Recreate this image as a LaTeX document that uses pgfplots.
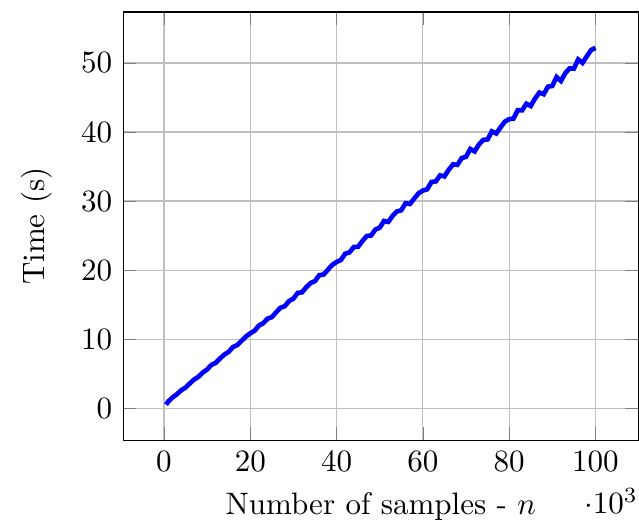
\documentclass[border=0pt]{standalone}
\usepackage{pgfplots}
\pgfplotsset{compat=1.18}
\begin{document}
\begin{tikzpicture}
\begin{axis}[
  scale only axis,
  width=166pt, height=138pt,
  grid=major,
  ytick distance=10,
  xlabel={Number of samples - $n$},
  ylabel={Time (s)},
  ylabel shift=2.5pt,
  scaled x ticks=base 10:-3,
  every x tick scale label/.style={at={(xticklabel cs:1)},anchor=north east,inner sep=0pt,yshift=-2pt},
]
\addplot[blue, line width=1.5pt, no marks] coordinates {
(500,0.515) (1000,0.987) (2000,1.580) (3000,2.031) (4000,2.604) (5000,3.003)
(6000,3.599) (7000,4.169) (8000,4.561) (9000,5.177) (10000,5.617)
(11000,6.281) (12000,6.582) (13000,7.221) (14000,7.777) (15000,8.169)
(16000,8.871) (17000,9.149) (18000,9.770) (19000,10.383) (20000,10.851)
(21000,11.227) (22000,11.976) (23000,12.307) (24000,12.976) (25000,13.195)
(26000,13.911) (27000,14.553) (28000,14.789) (29000,15.525) (30000,15.881)
(31000,16.701) (32000,16.786) (33000,17.545) (34000,18.137) (35000,18.421)
(36000,19.279) (37000,19.365) (38000,20.070) (39000,20.755) (40000,21.187)
(41000,21.467) (42000,22.372) (43000,22.583) (44000,23.348) (45000,23.387)
(46000,24.223) (47000,24.937) (48000,25.017) (49000,25.873) (50000,26.145)
(51000,27.121) (52000,26.990) (53000,27.869) (54000,28.497) (55000,28.673)
(56000,29.687) (57000,29.581) (58000,30.370) (59000,31.127) (60000,31.523)
(61000,31.707) (62000,32.768) (63000,32.859) (64000,33.720) (65000,33.579)
(66000,34.535) (67000,35.321) (68000,35.245) (69000,36.221) (70000,36.409)
(71000,37.541) (72000,37.194) (73000,38.193) (74000,38.857) (75000,38.925)
(76000,40.095) (77000,39.797) (78000,40.670) (79000,41.499) (80000,41.859)
(81000,41.947) (82000,43.164) (83000,43.135) (84000,44.092) (85000,43.771)
(86000,44.847) (87000,45.705) (88000,45.473) (89000,46.569) (90000,46.673)
(91000,47.961) (92000,47.398) (93000,48.517) (94000,49.217) (95000,49.177)
(96000,50.503) (97000,50.013) (98000,50.970) (99000,51.871) (100000,52.195)
};
\end{axis}
\path ([shift={(-39.7pt,3.9pt)}]current axis.north west);
\end{tikzpicture}
\end{document}
